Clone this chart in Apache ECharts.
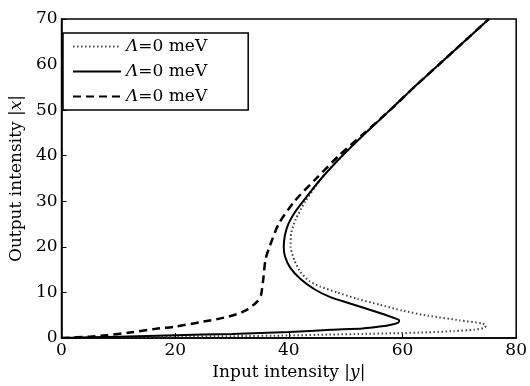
<!DOCTYPE html>
<html>
<head>
<meta charset="utf-8">
<script src="https://cdn.jsdelivr.net/npm/echarts@6/dist/echarts.min.js"></script>
<style>html,body{margin:0;padding:0;background:#fff}#c{width:530px;height:386px}</style>
</head>
<body>
<div id="c"></div>
<script>
// Input intensity |y| (x-axis), Output intensity |x| (y-axis)
const seriesNames = ['Λ=0 meV\u200b', 'Λ=0 meV\u200b\u200b', 'Λ=0 meV\u200b\u200b\u200b'];
const xTicks = [0, 20, 40, 60, 80];
const yTicks = [0, 10, 20, 30, 40, 50, 60, 70];
const dottedCurve = [[0,0],[10,0.15],[20,0.3],[30,0.4],[40,0.55],[47,0.75],[53,0.9],[59,1.05],[64.5,1.25],[69,1.5],[72.6,1.8],[74.3,2.2],[74.7,2.7],[74,3.2],[70,3.9],[64.5,4.9],[60,6],[56,7.3],[52,8.6],[48.5,10],[45.5,11.3],[43.6,12.5],[42,14.5],[41,17],[40.3,20],[40.4,23],[41.2,26],[42.9,30],[45.7,35],[49.4,40],[53.5,45],[57.8,50],[62,55],[66.4,60],[70.8,65],[75.2,70]];
const solidCurve = [[0,0],[10,0.3],[20,0.6],[30,0.9],[40,1.3],[47.4,1.8],[53,2.1],[56,2.5],[58,2.9],[59.3,3.4],[59.4,3.9],[58.3,4.5],[56,5.5],[53,6.7],[50.2,7.8],[47.4,8.9],[44.5,10.7],[42,13],[40.2,15.5],[39.3,18],[39.1,20],[39.3,22.5],[39.9,25],[41,27.5],[42.5,30],[45.7,35],[49.4,40],[53.5,45],[57.8,50],[62,55],[66.4,60],[70.8,65],[75.2,70]];
const dashedCurve = [[0,0],[5,0.3],[7.9,0.6],[12,1.2],[16.5,2.0],[20,2.5],[25,3.6],[28,4.3],[30.8,5.2],[32.5,6.1],[33.6,7.1],[34.5,8.1],[35.1,9.4],[35.3,11],[35.5,12.9],[35.9,17.3],[36.6,20],[38.2,25],[41,30],[44.8,35],[48.8,40],[53.3,45],[57.8,50],[62,55],[66.4,60],[70.8,65],[75.2,70]];

const FONT = 'DejaVu Serif';
const DASH = [8, 5];
const chart = echarts.init(document.getElementById('c'), null, {renderer: 'canvas'});
chart.setOption({
  animation: false,
  backgroundColor: '#fff',
  grid: {left: 54, right: 10, top: 19, bottom: 47, show: true, borderColor: '#000', borderWidth: 1.5},
  legend: {
    left: 63, top: 33, orient: 'vertical', itemWidth: 48, itemHeight: 14, itemGap: 8,
    padding: [5, 41, 5, 9], borderColor: '#000', borderWidth: 1.5, backgroundColor: '#fff',
    data: seriesNames,
    itemStyle: {opacity: 0},
    formatter: n => '{i|Λ}=0 meV',
    textStyle: {fontFamily: FONT, fontSize: 17, color: '#000', rich: {i: {fontFamily: FONT, fontSize: 17, fontStyle: 'italic', color: '#000'}}}
  },
  xAxis: {
    type: 'value', min: xTicks[0], max: xTicks[xTicks.length - 1], interval: 20,
    name: 'Input intensity |{i|y}|', nameLocation: 'middle', nameGap: 26,
    nameTextStyle: {fontFamily: FONT, fontSize: 17, color: '#000', rich: {i: {fontFamily: FONT, fontSize: 17, fontStyle: 'italic', color: '#000'}}},
    axisLine: {lineStyle: {color: '#000', width: 1.5}},
    axisTick: {inside: true, length: 5, lineStyle: {color: '#000'}},
    axisLabel: {fontFamily: FONT, fontSize: 17, color: '#000', margin: 4},
    splitLine: {show: false}
  },
  yAxis: {
    type: 'value', min: yTicks[0], max: yTicks[yTicks.length - 1], interval: 10,
    name: 'Output intensity |{i|x}|', nameLocation: 'middle', nameGap: 28,
    nameTextStyle: {fontFamily: FONT, fontSize: 17, color: '#000', rich: {i: {fontFamily: FONT, fontSize: 17, fontStyle: 'italic', color: '#000'}}},
    axisLine: {lineStyle: {color: '#000', width: 1.5}},
    axisTick: {inside: true, length: 5, lineStyle: {color: '#000'}},
    axisLabel: {fontFamily: FONT, fontSize: 17, color: '#000', margin: 4},
    splitLine: {show: false}
  },
  series: [
    {name: seriesNames[0], type: 'line', data: dottedCurve, symbol: 'none', smooth: 0.2,
     lineStyle: {color: '#444', width: 2, type: [1.5, 2.5]}},
    {name: seriesNames[1], type: 'line', data: solidCurve, symbol: 'none', smooth: 0.2,
     lineStyle: {color: '#000', width: 2, type: 'solid'}},
    // legend entry for the dashed curve (style only)
    {name: seriesNames[2], type: 'line', data: [], symbol: 'none',
     lineStyle: {color: '#000', width: 2.5, type: DASH}},
    // dashed curve itself, drawn through the grid's coordinate system
    {type: 'custom', data: dashedCurve, clip: true, silent: true,
     renderItem: function (params, api) {
       if (params.dataIndex !== 0) return null;
       const pts = dashedCurve.map(p => api.coord(p));
       return {type: 'polyline', shape: {points: pts, smooth: 0.25},
               style: {stroke: '#000', lineWidth: 2.5, fill: null, lineDash: DASH}};
     }}
  ]
});
</script>
</body>
</html>
